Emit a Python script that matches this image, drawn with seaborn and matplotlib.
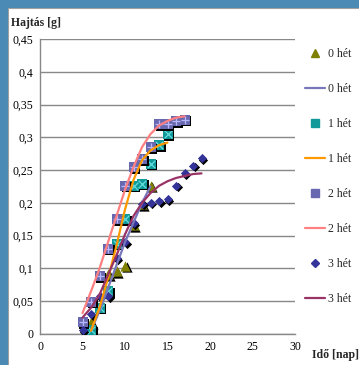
import pandas as pd
import numpy as np
import matplotlib
matplotlib.use('Agg')
import matplotlib.pyplot as plt
import matplotlib.transforms as mtransforms
from matplotlib.lines import Line2D
from matplotlib.patches import Rectangle
import seaborn as sns

sns.set_style('white')
plt.rcParams['font.family'] = ['Liberation Serif', 'DejaVu Serif']

# measured points (day, shoot mass g)
x_0het = [6, 8, 9, 10, 11, 12, 13]
y_0het = [0.018, 0.091, 0.096, 0.104, 0.166, 0.198, 0.226]
x_1het = [6, 7, 8, 9, 10, 11, 12, 13, 14, 15]
y_1het = [0.006, 0.040, 0.065, 0.138, 0.175, 0.226, 0.229, 0.260, 0.288, 0.305]
x_2het = [5, 6, 7, 8, 9, 10, 11, 12, 13, 14, 15, 16, 17]
y_2het = [0.018, 0.049, 0.088, 0.130, 0.175, 0.226, 0.254, 0.267, 0.285, 0.320, 0.320, 0.325, 0.327]
x_3het = [5, 6, 7, 8, 9, 10, 11, 12, 13, 14, 15, 16, 17, 18, 19]
y_3het = [0.006, 0.030, 0.058, 0.058, 0.116, 0.140, 0.169, 0.199, 0.200, 0.203, 0.206, 0.226, 0.245, 0.257, 0.268]

# fitted curves
fx_0het = [6, 7, 8, 9, 10, 11, 12, 13]
fy_0het = [0.005, 0.035, 0.070, 0.105, 0.140, 0.170, 0.200, 0.225]
fx_1het = [6, 7, 8, 9, 10, 11, 12, 13, 14, 15]
fy_1het = [0.005, 0.040, 0.085, 0.135, 0.190, 0.235, 0.265, 0.280, 0.288, 0.292]
fx_2het = [5, 6, 7, 8, 9, 10, 11, 12, 13, 14, 15, 16, 17]
fy_2het = [0.032, 0.065, 0.100, 0.140, 0.180, 0.220, 0.255, 0.285, 0.305, 0.318, 0.325, 0.330, 0.332]
fx_3het = [5, 6, 7, 8, 9, 10, 11, 12, 13, 14, 15, 16, 17, 18, 19]
fy_3het = [0.025, 0.040, 0.060, 0.090, 0.120, 0.152, 0.180, 0.200, 0.215, 0.226, 0.233, 0.238, 0.241, 0.244, 0.245]

x_ticks = [0, 5, 10, 15, 20, 25, 30]
y_ticks = [0, 0.05, 0.1, 0.15, 0.2, 0.25, 0.3, 0.35, 0.4, 0.45]

fig = plt.figure(figsize=(3.59, 3.65), dpi=100)
fig.patch.set_facecolor('#4a8ab4')
fig.add_artist(Rectangle((8 / 359, -0.01), 1.0, 1.01 - 8 / 365, transform=fig.transFigure,
                         facecolor='white', edgecolor='#a0a0a0', lw=0.8, zorder=0))
ax = fig.add_axes([40 / 359, 31 / 365, 255 / 359, 295 / 365])
ax.set_facecolor('none')

shadow = mtransforms.offset_copy(ax.transData, fig=fig, x=1.6, y=-1.6, units='dots')


def markers(xs, ys, marker, face, size, overlay=None, over_color=None):
    d = pd.DataFrame({'x': xs, 'y': ys})
    sns.scatterplot(data=d, x='x', y='y', ax=ax, marker=marker, color='black', s=size,
                    linewidth=0, transform=shadow, zorder=3)
    sns.scatterplot(data=d, x='x', y='y', ax=ax, marker=marker, color=face, s=size,
                    linewidth=0, zorder=3)
    if overlay:
        sns.scatterplot(data=d, x='x', y='y', ax=ax, marker=overlay, color=over_color,
                        s=size * 0.55, linewidth=0.9, zorder=3)


def curve(xs, ys, color):
    d = pd.DataFrame({'x': xs, 'y': ys})
    sns.lineplot(data=d, x='x', y='y', ax=ax, color=color, lw=1.6, sort=False,
                 estimator=None, zorder=4)


markers(x_0het, y_0het, '^', '#808000', 55)
curve(fx_0het, fy_0het, '#7777bb')
markers(x_1het, y_1het, 's', '#119999', 55, 'x', '#66dddd')
curve(fx_1het, fy_1het, '#ff9900')
markers(x_2het, y_2het, 's', '#6868b0', 60, '+', '#b8b8ff')
curve(fx_2het, fy_2het, '#ff8080')
markers(x_3het, y_3het, 'D', '#333399', 22)
curve(fx_3het, fy_3het, '#993366')

ax.set_xlim(0, 30)
ax.set_ylim(0, 0.45)
ax.set_xticks(x_ticks)
ax.set_yticks(y_ticks)
ax.set_yticklabels([('%g' % v).replace('.', ',') for v in y_ticks])
ax.tick_params(length=0, labelsize=8.5, colors='black', pad=5)
ax.grid(axis='y', color='#888888', lw=1)
ax.grid(axis='x', visible=False)
for side in ['top', 'right']:
    ax.spines[side].set_visible(False)
for side in ['left', 'bottom']:
    ax.spines[side].set_color('#888888')
    ax.spines[side].set_linewidth(1)
ax.set_xlabel('')
ax.set_ylabel('')

fig.text(11 / 359, 1 - 23 / 365, 'Hajtás [g]', fontsize=8.5, fontweight='bold', va='center')
fig.text(312 / 359, 1 - 355 / 365, 'Idő [nap]', fontsize=8.5, fontweight='bold', va='center')

handles = [
    Line2D([], [], ls='none', marker='^', color='#808000', markersize=6),
    Line2D([], [], color='#7777bb', lw=1.6),
    Line2D([], [], ls='none', marker='s', color='#119999', markersize=5.5),
    Line2D([], [], color='#ff9900', lw=1.6),
    Line2D([], [], ls='none', marker='s', color='#6868b0', markersize=5.5),
    Line2D([], [], color='#ff8080', lw=1.6),
    Line2D([], [], ls='none', marker='D', color='#333399', markersize=4.5),
    Line2D([], [], color='#993366', lw=1.6),
]
labels = ['0 hét', '0 hét', '1 hét', '1 hét', '2 hét', '2 hét', '3 hét', '3 hét']
fig.legend(handles, labels, loc='upper left', bbox_to_anchor=(300 / 359, 1 - 43 / 365),
           frameon=False, fontsize=8.5, labelspacing=1.95, handlelength=1.7,
           handletextpad=0.3, borderaxespad=0)

fig.savefig('out.png', dpi=100)
